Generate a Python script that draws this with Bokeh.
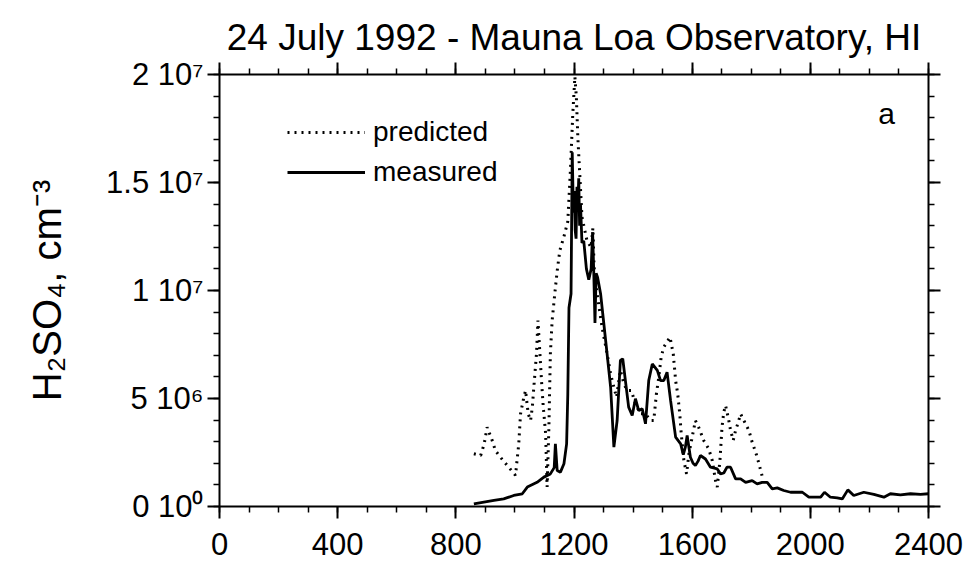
from bokeh.plotting import figure
from bokeh.models import (LinearAxis, FixedTicker, Range1d, Legend, LegendItem,
                          Label, CustomJSTickFormatter)
from bokeh.embed import file_html
from bokeh.resources import INLINE

# Time axis (seconds) and H2SO4 concentration (units of 1e6 cm^-3)
meas_x = [861, 929, 962, 996, 1025, 1042, 1075, 1098, 1120, 1133, 1137, 1143, 1154,
          1166, 1175, 1179, 1183, 1190, 1194, 1198, 1201, 1204, 1207, 1210, 1213, 1216,
          1219, 1222, 1227, 1233, 1242, 1250, 1258, 1263, 1267, 1271, 1275, 1280, 1290,
          1301, 1312, 1324, 1335, 1346, 1357, 1365, 1374, 1385, 1397, 1408, 1419, 1431,
          1442, 1453, 1465, 1482, 1493, 1504, 1515, 1527, 1544, 1561, 1570, 1577, 1583,
          1594, 1603, 1611, 1620, 1628, 1645, 1662, 1685, 1696, 1707, 1718, 1730, 1747,
          1764, 1781, 1803, 1820, 1837, 1854, 1871, 1888, 1910, 1933, 1956, 1973, 1995,
          2017, 2035, 2048, 2068, 2091, 2108, 2127, 2147, 2181, 2215, 2249, 2271, 2305,
          2339, 2373, 2400]
meas_y = [0.12, 0.28, 0.35, 0.51, 0.59, 0.9, 1.12, 1.36, 1.51, 1.8, 2.9, 1.67, 1.59,
          1.98, 2.9, 5.2, 9.2, 9.85, 16.4, 13.6, 14.6, 12.8, 12.4, 14.8, 13.9, 15.2,
          13.0, 14.0, 12.2, 12.3, 11.0, 10.5, 11.0, 12.7, 10.8, 8.5, 10.8, 10.6, 9.85,
          8.46, 7.07, 5.52, 2.75, 3.98, 6.76, 6.84, 5.83, 4.6, 4.21, 4.99, 4.44, 4.52,
          3.83, 5.83, 6.6, 6.3, 5.83, 5.83, 6.22, 4.9, 3.21, 2.9, 2.4, 2.75, 3.29,
          2.28, 2.0, 1.9, 2.1, 2.36, 2.2, 1.82, 1.74, 1.51, 1.55, 1.82, 1.82, 1.28,
          1.28, 1.12, 1.2, 1.05, 1.12, 1.12, 0.82, 0.86, 0.74, 0.66, 0.66, 0.66, 0.43,
          0.43, 0.43, 0.66, 0.43, 0.4, 0.35, 0.77, 0.51, 0.66, 0.56, 0.43, 0.59, 0.54,
          0.59, 0.56, 0.59]

pred_x = [861, 884, 896, 906, 923, 934, 951, 979, 1002, 1013, 1019, 1028, 1036, 1045,
          1053, 1059, 1064, 1073, 1078, 1084, 1090, 1096, 1104, 1109, 1115, 1120, 1126,
          1135, 1143, 1152, 1166, 1179, 1188, 1196, 1203, 1208, 1213, 1220, 1227, 1244,
          1258, 1264, 1268, 1278, 1295, 1312, 1324, 1332, 1344, 1357, 1369, 1380, 1394,
          1408, 1425, 1442, 1459, 1470, 1479, 1487, 1495, 1504, 1525, 1536, 1544, 1551,
          1558, 1563, 1572, 1581, 1589, 1600, 1611, 1622, 1639, 1656, 1668, 1679, 1685,
          1694, 1701, 1707, 1713, 1718, 1724, 1730, 1739, 1747, 1756, 1764, 1775, 1792,
          1803, 1815, 1823, 1832, 1837]
pred_y = [2.44, 2.36, 2.9, 3.67, 3.06, 2.59, 2.28, 1.82, 1.44, 2.9, 4.29, 4.91, 5.37, 4.29,
          3.98, 4.6, 5.52, 7.07, 8.61, 7.22, 5.83, 4.6, 3.37, 0.9, 3.67, 7.07, 8.61,
          9.85, 10.9, 11.85, 12.5, 13.2, 15.6, 18.2, 19.9, 18.95, 17.1, 15.25, 13.4, 12.3,
          12.0, 12.9, 11.1, 9.85, 8.3, 7.07, 6.14, 5.68, 5.06, 6.3, 5.68, 5.37, 5.37,
          4.75, 4.29, 4.29, 3.98, 3.98, 5.22, 5.99, 6.91, 7.38, 7.84, 7.07, 5.83, 5.22,
          4.29, 3.37, 2.13, 1.51, 2.44, 3.21, 3.98, 3.67, 3.06, 2.67, 2.13, 1.2, 0.9,
          2.13, 3.67, 4.37, 4.68, 4.37, 3.98, 3.52, 3.06, 3.52, 3.9, 4.29, 3.98, 3.52,
          2.98, 2.51, 2.13, 1.67, 1.4]

x_ticks = [0, 400, 800, 1200, 1600, 2000, 2400]
x_minor = list(range(0, 2401, 100))
y_ticks = [0, 5e6, 1e7, 1.5e7, 2e7]
y_minor = [i * 1e6 for i in range(0, 21)]
y_tick_labels = ["0 10\u2070", "5 10\u2076", "1 10\u2077", "1.5 10\u2077", "2 10\u2077"]

FONT = "Liberation Sans"
scale = 1e6
meas_v = [v * scale for v in meas_y]
pred_v = [v * scale for v in pred_y]

p = figure(width=966, height=571, output_backend="svg", toolbar_location=None,
           x_range=Range1d(0, 2400), y_range=Range1d(0, 2e7),
           min_border_left=219, min_border_right=38, min_border_top=74,
           min_border_bottom=65, x_axis_location=None, y_axis_location=None)
p.xgrid.visible = False
p.ygrid.visible = False
p.outline_line_color = None
p.background_fill_color = "white"
p.border_fill_color = "white"

p.title.text = "24 July 1992 - Mauna Loa Observatory, HI"
p.title.text_font = FONT
p.title.text_font_size = "37px"
p.title.text_font_style = "normal"
p.title.align = "center"
p.title.offset = 8
p.title.text_color = "black"
p.title.standoff = 10


def style_axis(ax, labels=True):
    ax.axis_line_width = 2
    ax.axis_line_color = "black"
    ax.major_tick_line_width = 2
    ax.minor_tick_line_width = 1.5
    ax.major_tick_out = 12
    ax.major_tick_in = 0
    ax.minor_tick_out = 6
    ax.minor_tick_in = 0
    ax.major_label_text_font = FONT
    ax.major_label_text_font_size = "31px"
    ax.major_label_text_color = "black"
    if not labels:
        ax.formatter = CustomJSTickFormatter(code="return ''")


xt = FixedTicker(ticks=x_ticks, minor_ticks=x_minor)
yt = FixedTicker(ticks=y_ticks, minor_ticks=y_minor)

bottom = LinearAxis(ticker=xt)
style_axis(bottom)
bottom.major_label_standoff = 14
top = LinearAxis(ticker=xt)
style_axis(top, labels=False)

left = LinearAxis(ticker=yt)
style_axis(left)
left.major_label_overrides = {float(t): s for t, s in zip(y_ticks, y_tick_labels)}
left.major_label_standoff = 4
left.axis_label = "H\u2082SO\u2084, cm\u207b\u00b3"
left.axis_label_text_font = FONT
left.axis_label_text_font_size = "40px"
left.axis_label_text_font_style = "normal"
left.axis_label_text_color = "black"
left.axis_label_standoff = 34
right = LinearAxis(ticker=yt)
style_axis(right, labels=False)

p.add_layout(bottom, "below")
p.add_layout(top, "above")
p.add_layout(left, "left")
p.add_layout(right, "right")

pred = p.line(pred_x, pred_v, line_color="black", line_width=3, line_dash="2 5")
meas = p.line(meas_x, meas_v, line_color="black", line_width=2.8)

legend = Legend(items=[LegendItem(label="predicted", renderers=[pred]),
                       LegendItem(label="measured", renderers=[meas])],
                location=(68, 318), orientation="vertical")
legend.label_text_font = FONT
legend.label_text_font_size = "28px"
legend.label_text_color = "black"
legend.glyph_width = 78
legend.glyph_height = 32
legend.label_standoff = 8
legend.spacing = 8
legend.padding = 0
legend.margin = 0
legend.border_line_color = None
legend.background_fill_alpha = 0
p.add_layout(legend)

p.add_layout(Label(x=2258, y=18.2e6, text="a", text_font=FONT, text_font_size="30px",
                   text_align="center", text_baseline="middle", text_color="black"))

open("out.html", "w").write(file_html(p, INLINE))
